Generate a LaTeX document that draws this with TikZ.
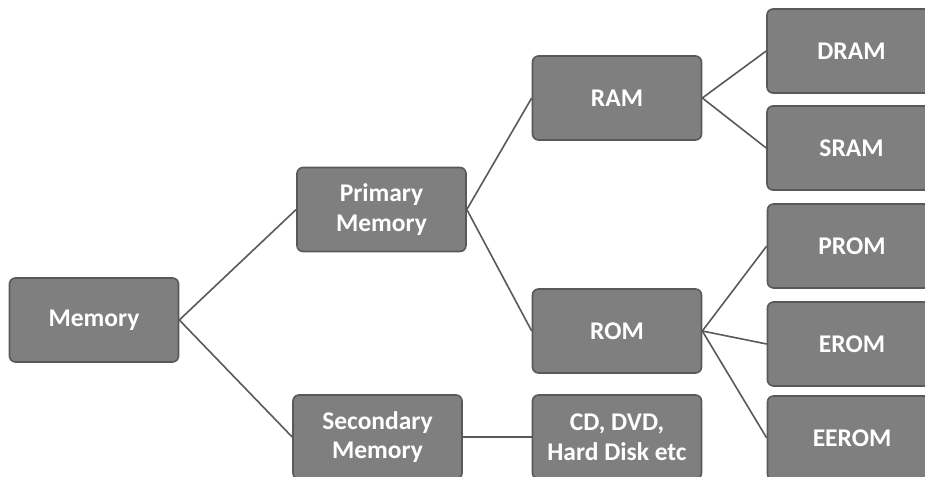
\documentclass[tikz,border=0pt]{standalone}
\usepackage{fontspec}
\setmainfont{Carlito}
\usepackage{tikz}
\usetikzlibrary{positioning}

\definecolor{boxfill}{HTML}{7F7F7F}
\definecolor{boxline}{HTML}{595959}

\begin{document}
\begin{tikzpicture}[x=1pt,y=-1pt,mem/.style={draw=boxline,fill=boxfill,line width=1.6pt,rounded corners=6pt,minimum width=169pt,minimum height=84pt,inner sep=0pt,text=white,align=center,font=\fontsize{25.5}{29.5}\selectfont\bfseries}, link/.style={draw=boxline,line width=1.6pt}]
        \useasboundingbox (0,0) rectangle (925,476);
        \clip (0,0) rectangle (925,476);

        \node[mem] (memory) at (94,320) {Memory};
        \node[mem] (prim) at (381.5,209.5) {Primary\\Memory};
        \node[mem] (sec) at (377.5,437) {Secondary\\Memory};

        \node[mem] (ram) at (617,98) {RAM};
        \node[mem] (rom) at (617,331) {ROM};
        \node[mem] (cd) at (617,437) {CD, DVD,\\Hard Disk etc};

        \node[mem] (dram) at (851.5,51) {DRAM};
        \node[mem] (sram) at (851.5,148) {SRAM};
        \node[mem] (prom) at (852,246) {PROM};
        \node[mem] (erom) at (852,344) {EROM};
        \node[mem] (eerom) at (852,438) {EEROM};

        \path (memory.east) edge[link] (prim.west);
        \path (memory.east) edge[link] (sec.west);
        \path (prim.east) edge[link] (ram.west);
        \path (prim.east) edge[link] (rom.west);
        \path (sec.east) edge[link] (cd.west);

        \path (ram.east) edge[link] (dram.west);
        \path (ram.east) edge[link] (sram.west);
        \path (rom.east) edge[link] (prom.west);
        \path (rom.east) edge[link] (erom.west);
        \path (rom.east) edge[link] (eerom.west);
    \end{tikzpicture}
\end{document}
